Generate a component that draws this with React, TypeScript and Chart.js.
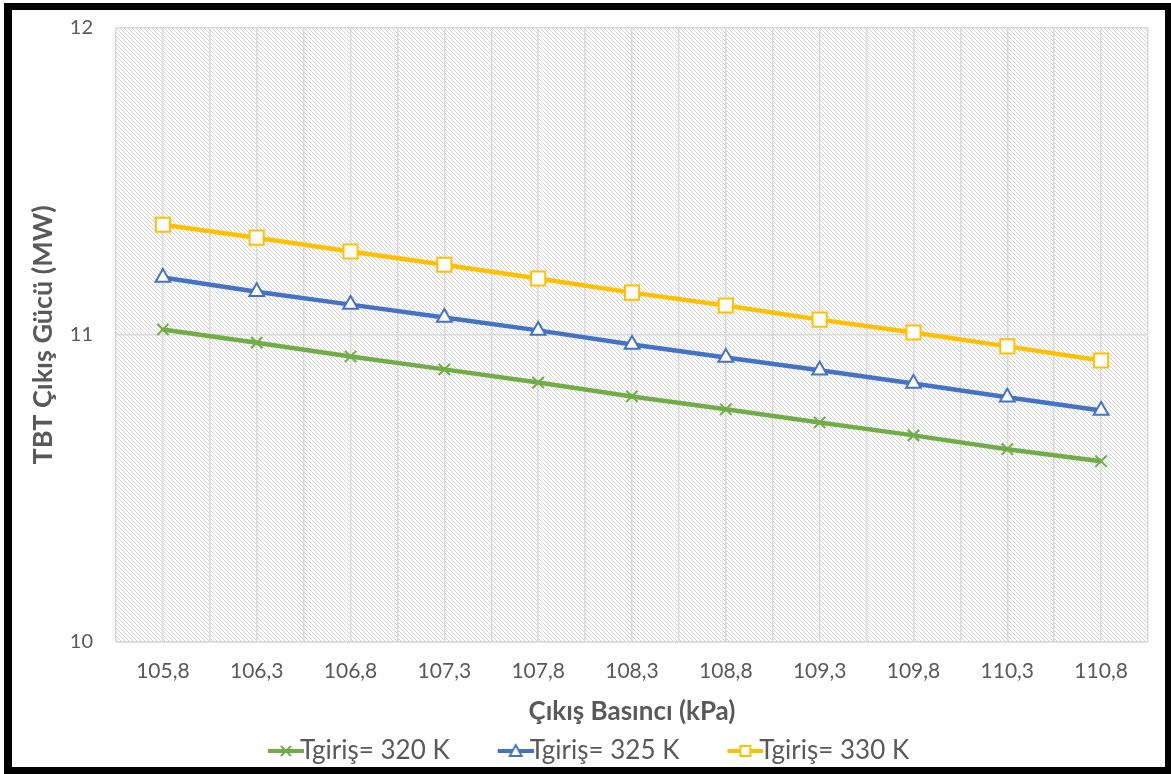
import React, { useEffect, useRef } from "react";
import { Chart, registerables } from "chart.js";

Chart.register(...registerables);

const xValues = [105.8, 106.3, 106.8, 107.3, 107.8, 108.3, 108.8, 109.3, 109.8, 110.3, 110.8];
const xTickLabels = ["105,8", "106,3", "106,8", "107,3", "107,8", "108,3", "108,8", "109,3", "109,8", "110,3", "110,8"];
const series320 = [11.018, 10.975, 10.93, 10.888, 10.845, 10.8, 10.758, 10.715, 10.673, 10.628, 10.589];
const series325 = [11.187, 11.141, 11.099, 11.057, 11.015, 10.969, 10.927, 10.885, 10.842, 10.797, 10.754];
const series330 = [11.359, 11.317, 11.272, 11.229, 11.184, 11.138, 11.096, 11.05, 11.008, 10.963, 10.917];
const seriesLabels = ["Tgiriş= 320 K", "Tgiriş= 325 K", "Tgiriş= 330 K"];
const seriesColors = ["#70AD47", "#4472C4", "#FFC000"];
const seriesMarkers = ["crossRot", "triangle", "rect"];
const yAxisTitle = "TBT Çıkış Gücü (MW)";
const xAxisTitle = "Çıkış Basıncı (kPa)";

const FONT = "Lato, 'Open Sans', sans-serif";
const TEXT = "#595959";
const LEGEND_BOX_W = 26;

function makeLegendIcon(color: string, marker: string): HTMLCanvasElement {
  const c = document.createElement("canvas");
  c.width = LEGEND_BOX_W + 34;
  c.height = 20;
  const ctx = c.getContext("2d")!;
  const y = 10;
  const x0 = c.width - 36;
  const x1 = c.width;
  ctx.strokeStyle = color;
  ctx.lineWidth = 4;
  ctx.beginPath();
  ctx.moveTo(x0, y);
  ctx.lineTo(x1, y);
  ctx.stroke();
  const cx = (x0 + x1) / 2;
  ctx.lineWidth = 2;
  if (marker === "crossRot") {
    ctx.beginPath();
    ctx.moveTo(cx - 5, y - 5);
    ctx.lineTo(cx + 5, y + 5);
    ctx.moveTo(cx + 5, y - 5);
    ctx.lineTo(cx - 5, y + 5);
    ctx.stroke();
  } else if (marker === "triangle") {
    ctx.fillStyle = "#fff";
    ctx.beginPath();
    ctx.moveTo(cx, y - 6);
    ctx.lineTo(cx + 6, y + 5);
    ctx.lineTo(cx - 6, y + 5);
    ctx.closePath();
    ctx.fill();
    ctx.stroke();
  } else {
    ctx.fillStyle = "#fff";
    ctx.fillRect(cx - 5, y - 5, 10, 10);
    ctx.strokeRect(cx - 5, y - 5, 10, 10);
  }
  return c;
}

export default function App() {
  const ref = useRef<HTMLCanvasElement | null>(null);

  useEffect(() => {
    if (!ref.current) return;
    const pc = document.createElement("canvas");
    pc.width = 4;
    pc.height = 4;
    const pctx = pc.getContext("2d")!;
    pctx.fillStyle = "#ffffff";
    pctx.fillRect(0, 0, 4, 4);
    pctx.fillStyle = "#d2d2d2";
    for (let i = 0; i < 4; i++) pctx.fillRect(i, i, 1, 1);

    const icons = seriesColors.map((c, i) => makeLegendIcon(c, seriesMarkers[i]));

    const bgPlugin = {
      id: "hatchBg",
      beforeDraw(chart: any) {
        const { ctx, chartArea } = chart;
        const pattern = ctx.createPattern(pc, "repeat");
        ctx.save();
        ctx.fillStyle = pattern;
        ctx.fillRect(chartArea.left, chartArea.top, chartArea.right - chartArea.left, chartArea.bottom - chartArea.top);
        ctx.restore();
      },
    };

    const allSeries = [series320, series325, series330];
    const datasets = allSeries.map((s, i) => ({
      label: seriesLabels[i],
      data: s.map((v, j) => ({ x: xValues[j], y: v })),
      borderColor: seriesColors[i],
      backgroundColor: seriesColors[i],
      borderWidth: 4.5,
      pointStyle: seriesMarkers[i] as any,
      pointRadius: i === 0 ? 8 : i === 1 ? 8.5 : 10,
      pointBorderWidth: 2,
      pointBorderColor: seriesColors[i],
      pointBackgroundColor: i === 0 ? seriesColors[i] : "#ffffff",
      tension: 0,
    }));

    const chart = new Chart(ref.current, {
      type: "line",
      data: { datasets },
      options: {
        animation: false,
        responsive: false,
        layout: { padding: { left: 0, right: 7, top: 0, bottom: -7 } },
        plugins: {
          tooltip: { enabled: false },
          legend: {
            position: "bottom",
            labels: {
              usePointStyle: true,
              pointStyleWidth: LEGEND_BOX_W,
              padding: 41,
              color: TEXT,
              font: { family: FONT, size: 26 },
              generateLabels: (ch: any) =>
                ch.data.datasets.map((d: any, i: number) => ({
                  text: d.label,
                  pointStyle: icons[i],
                  fillStyle: seriesColors[i],
                  strokeStyle: seriesColors[i],
                  lineWidth: 0,
                  hidden: false,
                  datasetIndex: i,
                  fontColor: TEXT,
                })),
            },
          },
        },
        scales: {
          x: {
            type: "linear",
            min: 105.55,
            max: 111.05,
            afterFit: (scale: any) => {
              scale.height = 55;
            },
            ticks: {
              stepSize: 0.25,
              autoSkip: false,
              maxRotation: 0,
              minRotation: 0,
              padding: 17,
              color: TEXT,
              font: { family: FONT, size: 21 },
              callback: (value: any, index: number) =>
                index % 2 === 1 ? xTickLabels[(index - 1) / 2] ?? "" : "",
            },
            grid: { color: "#d9d9d9", lineWidth: 1.5, drawTicks: false },
            border: { display: true, color: "#d9d9d9", width: 1.5 },
            title: {
              display: true,
              text: xAxisTitle,
              color: TEXT,
              font: { family: FONT, size: 26, weight: "bold" },
              padding: { top: 0, bottom: -30 },
            },
          },
          y: {
            min: 10,
            max: 12,
            afterFit: (scale: any) => {
              scale.width = 104;
              scale.paddingTop = 0;
              scale.paddingBottom = 0;
            },
            ticks: {
              stepSize: 1,
              padding: 23,
              color: TEXT,
              font: { family: FONT, size: 20 },
            },
            grid: { color: "#d9d9d9", lineWidth: 1.5, drawTicks: false },
            border: { display: false },
            title: {
              display: true,
              text: yAxisTitle,
              color: TEXT,
              font: { family: FONT, size: 27, weight: "bold" },
              padding: { top: 15, bottom: 0 },
            },
          },
        },
      },
      plugins: [bgPlugin],
    });
    return () => chart.destroy();
  }, []);

  return (
    <div style={{ position: "absolute", left: 0, top: 0, width: 1171, height: 774, background: "#fff", overflow: "hidden" }}>
      <div
        style={{
          position: "absolute",
          left: 4,
          top: 3,
          width: 1167,
          height: 771,
          boxSizing: "border-box",
          borderStyle: "solid",
          borderColor: "#000",
          borderWidth: "7px 6px 7px 8px",
          background: "#fff",
        }}
      >
        <canvas ref={ref} width={1153} height={751} style={{ display: "block", marginTop: 6 }} />
      </div>
    </div>
  );
}
